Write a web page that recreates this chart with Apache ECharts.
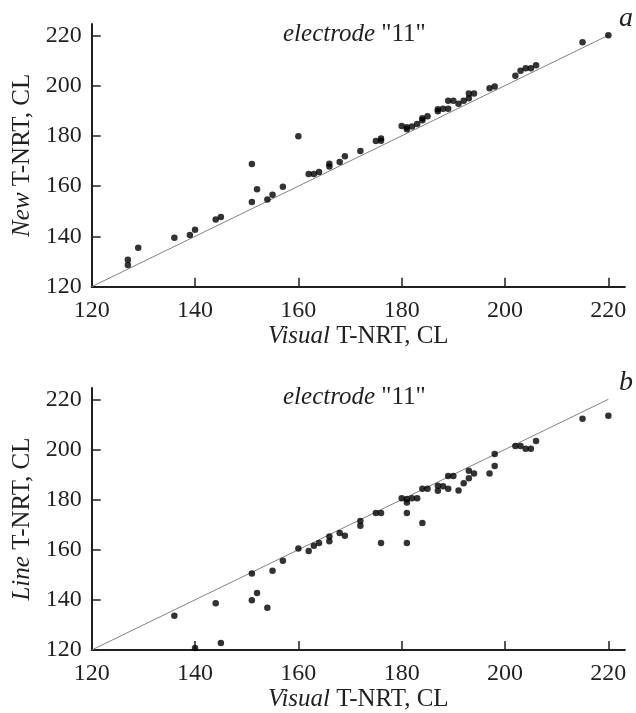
<!DOCTYPE html>
<html>
<head>
<meta charset="utf-8">
<script src="https://cdn.jsdelivr.net/npm/echarts@6/dist/echarts.min.js"></script>
<style>html,body{margin:0;padding:0;background:#fff;}#c{width:636px;height:713px;}</style>
</head>
<body>
<div id="c"></div>
<script>
const axisTicks = [120, 140, 160, 180, 200, 220];
const diagonal = [120, 220];

// Panel a: Visual vs New T-NRT
const topVisual = [127,127,129,136,139,140,144,145,151,151,152,154,155,157,160,162,163,164,166,166,168,169,172,175,176,176,180,181,181,182,183,184,184,185,187,187,188,189,189,190,191,192,193,193,194,197,198,202,203,204,205,206,215,220];
const topNew = [130.7,128.6,135.5,139.5,140.6,142.7,146.7,147.7,168.8,153.7,158.8,154.7,156.6,159.8,179.8,164.8,164.8,165.6,168.9,167.8,169.6,171.9,174,178,178.1,179,183.9,183.4,182.6,183.7,184.7,186.2,187,187.8,190.6,189.8,190.8,190.8,194,194,192.8,194,195,196.9,196.9,198.9,199.6,203.9,205.9,206.9,206.9,208.1,217.2,220];

// Panel b: Visual vs Line T-NRT
const bottomVisual = [136,140,144,145,151,151,152,154,155,157,160,162,163,164,166,166,168,169,172,172,175,176,176,180,181,181,181,181,182,183,184,184,185,187,187,188,189,189,190,191,192,193,193,194,197,198,198,202,203,204,205,206,215,220];
const bottomLine = [133.7,120.8,138.6,122.8,150.5,139.8,142.7,136.9,151.6,155.6,160.5,159.5,161.6,162.7,165.3,163.4,166.7,165.6,171.5,169.6,174.6,174.6,162.7,180.5,180.2,178.8,174.6,162.7,180.5,180.5,170.7,184.3,184.3,185.5,183.5,185.3,184.3,189.4,189.4,183.6,186.5,188.5,191.5,190.4,190.4,193.4,198.2,201.4,201.4,200.3,200.3,203.4,212.2,213.4];

const FONT = 'Liberation Serif';
const INK = '#231f20';
const pair = (xs, ys) => xs.map((x, i) => [x, ys[i]]);

function xAxisFor(gridIndex) {
  return {
    type: 'value', gridIndex, min: 120, max: 223.2,
    name: '{i|Visual} T-NRT, CL', nameLocation: 'middle', nameGap: 37,
    nameTextStyle: { fontFamily: FONT, fontSize: 25, color: INK,
      rich: { i: { fontFamily: FONT, fontSize: 25, fontStyle: 'italic', color: INK } } },
    axisLine: { show: true, lineStyle: { color: INK, width: 2 } },
    axisTick: { show: true, inside: true, length: 9, customValues: axisTicks, lineStyle: { color: INK, width: 1.5 } },
    axisLabel: { customValues: axisTicks, fontFamily: FONT, fontSize: 24, color: INK, margin: 12 },
    splitLine: { show: false }
  };
}
function yAxisFor(gridIndex, nameItalic) {
  return {
    type: 'value', gridIndex, min: 120, max: 224.5,
    name: '{i|' + nameItalic + '} T-NRT, CL', nameLocation: 'middle', nameGap: 57,
    nameTextStyle: { fontFamily: FONT, fontSize: 25, color: INK,
      rich: { i: { fontFamily: FONT, fontSize: 25, fontStyle: 'italic', color: INK } } },
    axisLine: { show: true, lineStyle: { color: INK, width: 2 } },
    axisTick: { show: true, inside: true, length: 9, customValues: axisTicks, lineStyle: { color: INK, width: 1.5 } },
    axisLabel: { customValues: axisTicks, fontFamily: FONT, fontSize: 24, color: INK, margin: 10 },
    splitLine: { show: false }
  };
}

const titleStyle = { fontFamily: FONT, fontSize: 25, fontWeight: 'normal', color: INK,
  rich: { i: { fontFamily: FONT, fontSize: 25, fontStyle: 'italic', color: INK } } };
const letterStyle = { fontFamily: FONT, fontSize: 28, fontStyle: 'italic', fontWeight: 'normal', color: INK };

const chart = echarts.init(document.getElementById('c'), null, { renderer: 'canvas' });
chart.setOption({
  animation: false,
  backgroundColor: '#fff',
  title: [
    { text: '{i|electrode} "11"', left: 283, top: 22, padding: 0, textStyle: titleStyle },
    { text: 'a', left: 619, top: 5, padding: 0, textStyle: letterStyle },
    { text: '{i|electrode} "11"', left: 283, top: 385, padding: 0, textStyle: titleStyle },
    { text: 'b', left: 619, top: 369, padding: 0, textStyle: letterStyle }
  ],
  grid: [
    { left: 91.7, top: 24, width: 533.2, height: 262.7 },
    { left: 91.7, top: 388, width: 533.2, height: 262.7 }
  ],
  xAxis: [xAxisFor(0), xAxisFor(1)],
  yAxis: [yAxisFor(0, 'New'), yAxisFor(1, 'Line')],
  series: [
    { type: 'line', xAxisIndex: 0, yAxisIndex: 0, data: pair(diagonal, diagonal), symbol: 'none',
      lineStyle: { color: '#808080', width: 1 }, z: 1, silent: true },
    { type: 'scatter', xAxisIndex: 0, yAxisIndex: 0, data: pair(topVisual, topNew), symbolSize: 6.5,
      itemStyle: { color: '#000' }, z: 3 },
    { type: 'line', xAxisIndex: 1, yAxisIndex: 1, data: pair(diagonal, diagonal), symbol: 'none',
      lineStyle: { color: '#808080', width: 1 }, z: 1, silent: true },
    { type: 'scatter', xAxisIndex: 1, yAxisIndex: 1, data: pair(bottomVisual, bottomLine), symbolSize: 6.5,
      itemStyle: { color: '#000' }, z: 3 }
  ]
});
</script>
</body>
</html>
